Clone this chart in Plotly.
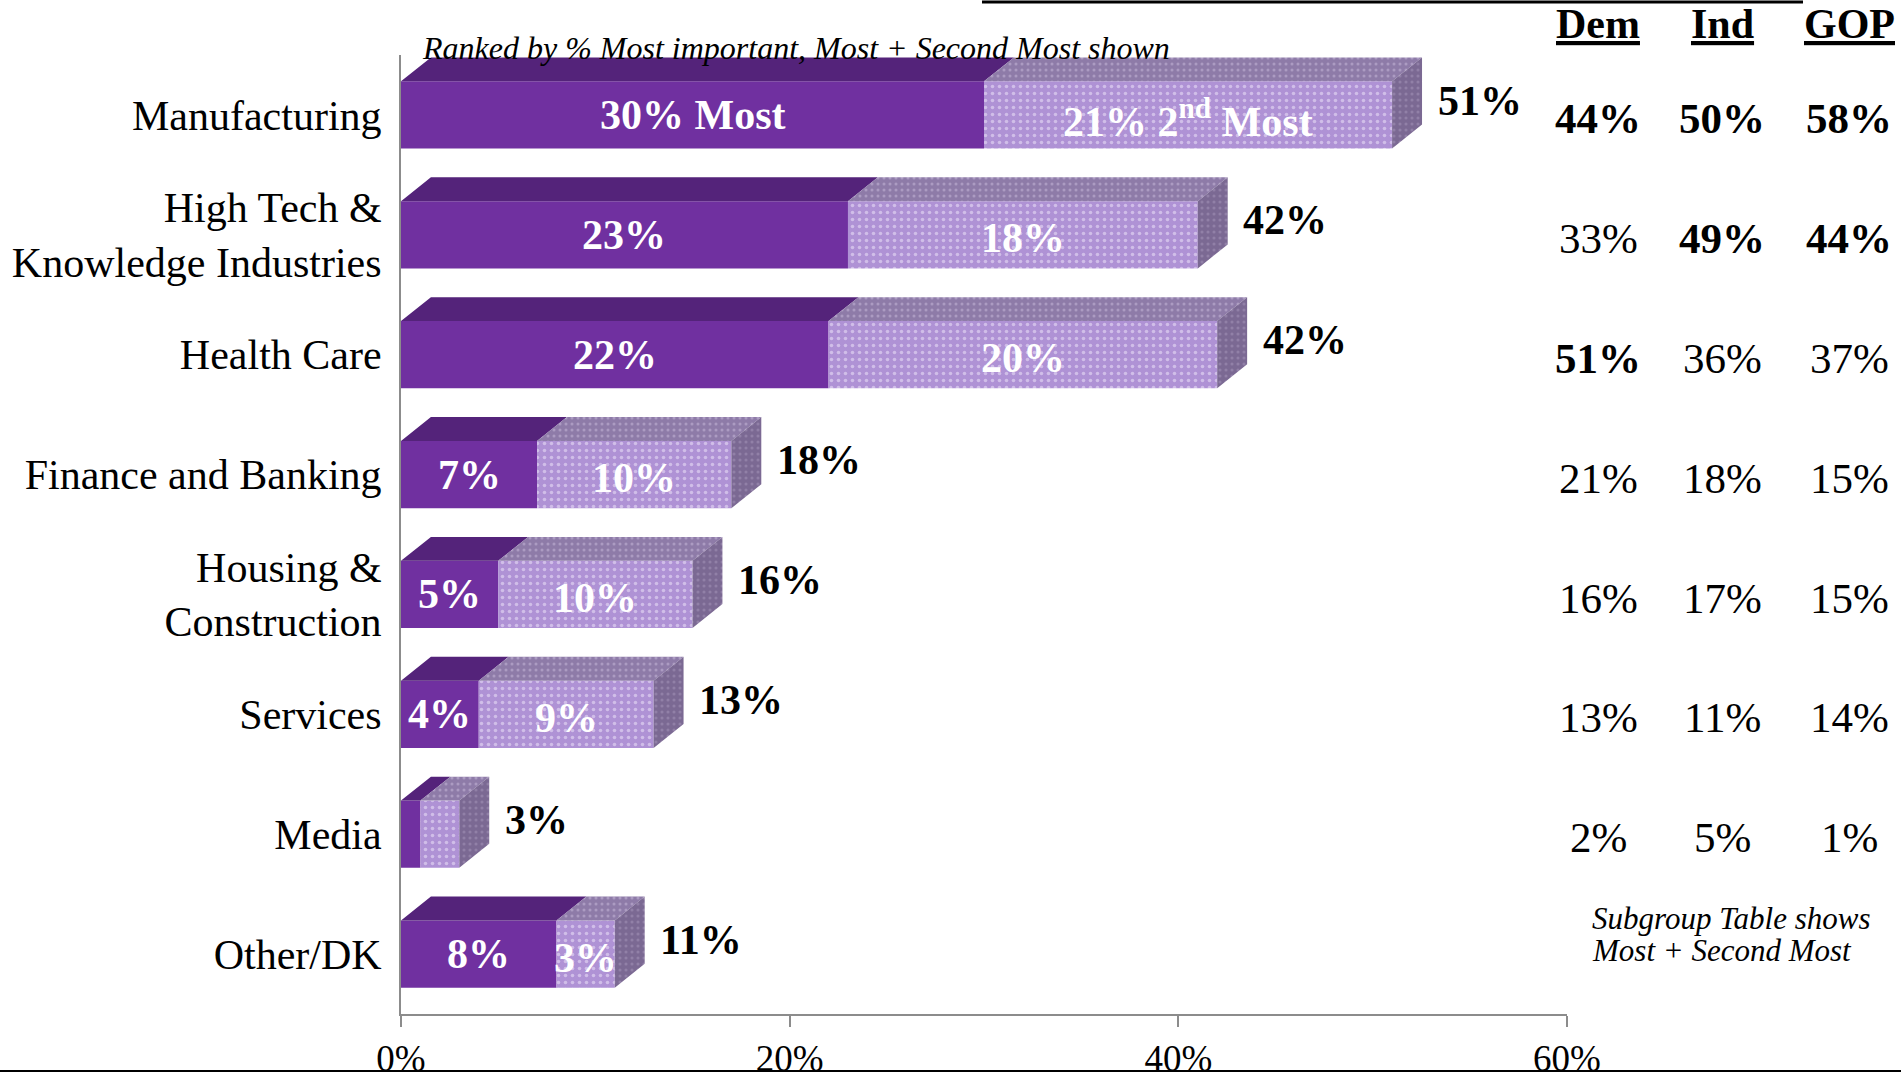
import plotly.graph_objects as go

# ---------------- data ----------------
categories = ["Manufacturing", "High Tech &<br>Knowledge Industries", "Health Care",
              "Finance and Banking", "Housing &<br>Construction", "Services", "Media", "Other/DK"]
most = [30, 23, 22, 7, 5, 4, 1, 8]
second = [21, 18, 20, 10, 10, 9, 2, 3]
total_labels = ["51%", "42%", "42%", "18%", "16%", "13%", "3%", "11%"]
most_labels = ["30% Most", "23%", "22%", "7%", "5%", "4%", "", "8%"]
second_labels = ["21% 2<sup>nd</sup> Most", "18%", "20%", "10%", "10%", "9%", "", "3%"]

groups = ["Dem", "Ind", "GOP"]
dem = [44, 33, 51, 21, 16, 13, 2, None]
ind = [50, 49, 36, 18, 17, 11, 5, None]
gop = [58, 44, 37, 15, 15, 14, 1, None]
dem_bold = [True, False, True, False, False, False, False, False]
ind_bold = [True, True, False, False, False, False, False, False]
gop_bold = [True, True, False, False, False, False, False, False]

x_ticks = [0, 20, 40, 60]
x_ticklabels = ["0%", "20%", "40%", "60%"]

subtitle = "Ranked by % Most important, Most + Second Most shown"
note_lines = ["Subgroup Table shows", "Most + Second Most"]

# ---------------- style ----------------
FONT = "Liberation Serif"
W, H = 1901, 1074
ML, MR, MT, MB = 401, 334, 55, 60
PW, PH = W - ML - MR, H - MT - MB
BAR_W = 0.56
DX = 1.54   # depth in x (%)
DY = 0.2    # depth in y (category units)

C_MOST = "#7030A0"
C_MOST_TOP = "#54237A"
C_SEC = "#AF92D5"
C_SEC_TOP = "#8E7BA8"
C_SIDE = "#7B6993"


def px_x(px):
    return (px - ML) / PW


def px_y(py):
    return 1 - (py - MT) / PH


pos = list(range(len(categories)))

fig = go.Figure()

# front faces
fig.add_trace(go.Bar(
    y=pos, x=most, orientation="h", width=BAR_W,
    marker=dict(color=C_MOST, line=dict(width=0)), hoverinfo="skip", showlegend=False))
fig.add_trace(go.Bar(
    y=pos, x=second, orientation="h", width=BAR_W, base=most,
    marker=dict(color=C_SEC, line=dict(width=0),
                pattern=dict(shape=".", fgcolor="#F2EAFB", bgcolor=C_SEC, size=7, solidity=0.2)),
    hoverinfo="skip", showlegend=False))


def poly_trace(xs, ys, color, pattern=None):
    kw = dict(fillpattern=pattern) if pattern else {}
    return go.Scatter(x=xs, y=ys, mode="lines", fill="toself", fillcolor=color,
                      line=dict(width=0, color=color), hoverinfo="skip", showlegend=False, **kw)


tx_m, ty_m, tx_s, ty_s, sx, sy = [], [], [], [], [], []
for i, (m, s) in enumerate(zip(most, second)):
    yt = i - BAR_W / 2
    yb = i + BAR_W / 2
    e = m + s
    tx_m += [0, m, m + DX, DX, 0, None]
    ty_m += [yt, yt, yt - DY, yt - DY, yt, None]
    tx_s += [m, e, e + DX, m + DX, m, None]
    ty_s += [yt, yt, yt - DY, yt - DY, yt, None]
    sx += [e, e + DX, e + DX, e, e, None]
    sy += [yt, yt - DY, yb - DY, yb, yt, None]

fig.add_trace(poly_trace(tx_m, ty_m, C_MOST_TOP))
fig.add_trace(poly_trace(tx_s, ty_s, C_SEC_TOP,
                         dict(shape=".", fgcolor="#C9BCDB", bgcolor=C_SEC_TOP, size=6, solidity=0.2)))
fig.add_trace(poly_trace(sx, sy, C_SIDE,
                         dict(shape=".", fgcolor="#A898BC", bgcolor=C_SIDE, size=6, solidity=0.2)))

annotations = []
for i, (m, s) in enumerate(zip(most, second)):
    if most_labels[i]:
        annotations.append(dict(x=m / 2, y=i, xref="x", yref="y", text="<b>" + most_labels[i] + "</b>",
                                showarrow=False, xanchor="center", yanchor="middle",
                                font=dict(family=FONT, size=42, color="white")))
    if second_labels[i]:
        annotations.append(dict(x=m + s / 2, y=i + 0.03, xref="x", yref="y",
                                text="<b>" + second_labels[i] + "</b>", xanchor="center", yanchor="middle",
                                showarrow=False, font=dict(family=FONT, size=42, color="white")))
    annotations.append(dict(x=m + s + DX + 0.7, y=i - 0.12, xref="x", yref="y", xanchor="left",
                            yanchor="middle", text="<b>" + total_labels[i] + "</b>", showarrow=False,
                            font=dict(family=FONT, size=42, color="black")))

# subgroup table
col_x = [1598, 1722, 1849]
for g, cx in zip(groups, col_x):
    annotations.append(dict(x=px_x(cx), y=px_y(24), xref="paper", yref="paper",
                            xanchor="center", yanchor="middle",
                            text="<b><u>" + g + "</u></b>", showarrow=False,
                            font=dict(family=FONT, size=42, color="black")))
for vals, bolds, cx in zip([dem, ind, gop], [dem_bold, ind_bold, gop_bold], col_x):
    for i, v in enumerate(vals):
        if v is None:
            continue
        t = f"{v}%"
        if bolds[i]:
            t = "<b>" + t + "</b>"
        annotations.append(dict(x=px_x(cx), y=i + 0.03, xref="paper", yref="y",
                                xanchor="center", yanchor="middle",
                                text=t, showarrow=False,
                                font=dict(family=FONT, size=43, color="black")))

# subtitle
annotations.append(dict(x=px_x(420), y=px_y(48), xref="paper", yref="paper",
                        xanchor="left", yanchor="middle", text="<i>" + subtitle + "</i>", showarrow=False,
                        font=dict(family=FONT, size=32, color="black")))
# note
for k, line in enumerate(note_lines):
    annotations.append(dict(x=px_x(1590), y=6.7 + k * 0.27, xref="paper", yref="y",
                            xanchor="left", yanchor="middle", text="<i>" + line + "</i>", showarrow=False,
                            font=dict(family=FONT, size=31, color="black")))

shapes = [
    dict(type="line", xref="paper", yref="paper", x0=px_x(0), x1=px_x(W),
         y0=px_y(1071), y1=px_y(1071), line=dict(color="black", width=2)),
    dict(type="line", xref="paper", yref="paper", x0=px_x(982), x1=px_x(1803),
         y0=px_y(2), y1=px_y(2), line=dict(color="black", width=3)),
]

fig.update_layout(
    width=W, height=H, barmode="overlay",
    margin=dict(l=ML, r=MR, t=MT, b=MB, autoexpand=False),
    paper_bgcolor="white", plot_bgcolor="white",
    font=dict(family=FONT, color="black"),
    annotations=annotations, shapes=shapes, showlegend=False,
    xaxis=dict(range=[0, 60], tickvals=x_ticks, ticktext=x_ticklabels, showgrid=False, zeroline=False,
               showline=True, linecolor="#8C8C8C", linewidth=2, ticks="outside", ticklen=11,
               tickcolor="#8C8C8C", tickwidth=2, tickfont=dict(family=FONT, size=37, color="black"),
               fixedrange=True, automargin=False),
    yaxis=dict(range=[len(categories) - 0.5, -0.5], tickvals=pos, ticktext=categories, showgrid=False,
               zeroline=False, showline=True, linecolor="#8C8C8C", linewidth=2, ticks="",
               tickfont=dict(family=FONT, size=42, color="black"), ticklabelstandoff=9,
               fixedrange=True, automargin=False),
)

fig.write_html("out.html", config={"displayModeBar": False},
               post_script="document.body.style.margin='0px';document.body.style.overflow='hidden';")
